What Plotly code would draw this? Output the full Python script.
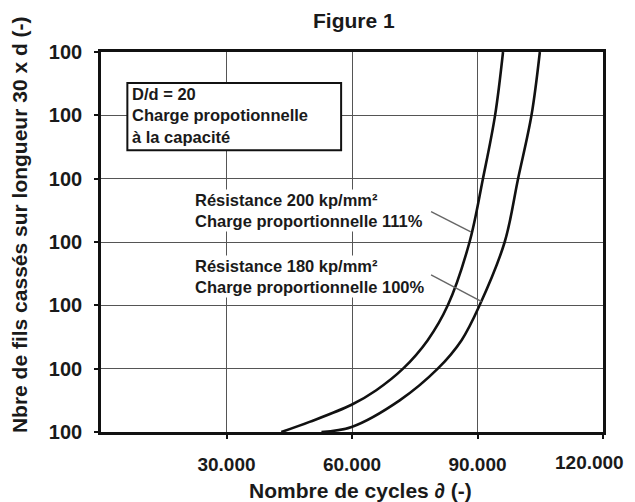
import plotly.graph_objects as go

# ---- data ----
x_ticks = [30000, 60000, 90000, 120000]
x_ticktext = ["30.000", "60.000", "90.000", "120.000"]
y_ticks = [0, 1, 2, 3, 4, 5, 6]
y_ticktext = ["100", "100", "100", "100", "100", "100", "100"]

cycles_200 = [43100, 49850, 59900, 65800, 72200, 78100, 82900, 88100, 91300, 94200, 96100]
broken_200 = [0, 0.16, 0.43, 0.66, 1.0, 1.45, 2.0, 3.0, 4.0, 5.0, 6.0]

cycles_180 = [52700, 59900, 71400, 80500, 86200, 90500, 96500, 99700, 102900, 104900]
broken_180 = [0, 0.08, 0.5, 1.0, 1.45, 2.0, 3.0, 4.0, 5.0, 6.0]

FONT = "Arial, Liberation Sans, sans-serif"
TXT = "#1a1a1a"

fig = go.Figure()
for xs, ys in [(cycles_200, broken_200), (cycles_180, broken_180)]:
    fig.add_trace(go.Scatter(x=xs, y=ys, mode="lines",
                             line=dict(color="#111", width=2.6, shape="spline", smoothing=1.0),
                             showlegend=False, hoverinfo="skip"))

fig.update_layout(
    width=627, height=494,
    margin=dict(l=93, r=32, t=44, b=70, autoexpand=False),
    paper_bgcolor="white", plot_bgcolor="white",
    font=dict(family=FONT, color=TXT),
    showlegend=False,
)
# last x tick label is drawn as an annotation nudged left so it stays inside the page
axis_ticktext = x_ticktext[:-1] + [""]
fig.update_xaxes(range=[0, 120000], tickvals=x_ticks, ticktext=axis_ticktext,
                 showgrid=True, gridcolor="#555", gridwidth=1.3,
                 showline=True, linecolor="#111", linewidth=2.6, mirror=True,
                 ticks="outside", ticklen=4, tickwidth=2, tickcolor="#111",
                 tickfont=dict(size=19, weight="bold", color=TXT),
                 ticklabelstandoff=9, ticklabeloverflow="allow",
                 zeroline=False, automargin=False)
fig.update_yaxes(range=[0, 6], tickvals=y_ticks, ticktext=y_ticktext,
                 showgrid=True, gridcolor="#555", gridwidth=1.3,
                 showline=True, linecolor="#111", linewidth=2.6, mirror=True,
                 ticks="outside", ticklen=4, tickwidth=2, tickcolor="#111",
                 tickfont=dict(size=20, weight="bold", color=TXT),
                 ticklabelstandoff=8, ticklabeloverflow="allow",
                 zeroline=False, automargin=False)
fig.add_annotation(x=x_ticks[-1], y=-0.081, xref="x", yref="paper", xanchor="right", yanchor="middle",
                   xshift=22, showarrow=False, text=x_ticktext[-1], borderpad=0,
                   font=dict(size=19, weight="bold", color=TXT, family=FONT))

# info box
fig.add_shape(type="rect", x0=6300, x1=57400, y0=4.45, y1=5.51,
              line=dict(color="#111", width=2), fillcolor="white", layer="above")

# leader lines
fig.add_shape(type="line", x0=78900, y0=3.48, x1=88400, y1=3.16,
              line=dict(color="#666", width=1.4), layer="above")
fig.add_shape(type="line", x0=78900, y0=2.48, x1=91000, y1=2.06,
              line=dict(color="#666", width=1.4), layer="above")

ann_font = dict(size=16.5, weight="bold", color=TXT, family=FONT)
fig.add_annotation(x=7000, y=5.0, xref="x", yref="y", xanchor="left", yanchor="middle",
                   align="left", showarrow=False, font=ann_font,
                   text="D/d = 20<br>Charge propotionnelle<br>à la capacité")
fig.add_annotation(x=22000, y=3.5, xref="x", yref="y", xanchor="left", yanchor="middle",
                   align="left", showarrow=False, font=ann_font, bgcolor="white",
                   text="Résistance 200 kp/mm²<br>Charge proportionnelle 111%")
fig.add_annotation(x=22000, y=2.45, xref="x", yref="y", xanchor="left", yanchor="middle",
                   align="left", showarrow=False, font=ann_font, bgcolor="white",
                   text="Résistance 180 kp/mm²<br>Charge proportionnelle 100%")

# titles
fig.add_annotation(x=0.503, y=1.1158, xref="paper", yref="paper", xanchor="center", yanchor="top",
                   showarrow=False, text="Figure 1", borderpad=0,
                   font=dict(size=21, weight="bold", color=TXT, family=FONT))
fig.add_annotation(x=0.516, y=-0.155, xref="paper", yref="paper", xanchor="center", yanchor="middle",
                   showarrow=False, text="Nombre de cycles ∂ (-)", borderpad=0,
                   font=dict(size=21, weight="bold", color=TXT, family=FONT))
fig.add_annotation(x=-0.161, y=0.545, xref="paper", yref="paper", xanchor="center", yanchor="middle",
                   showarrow=False, textangle=-90, text="Nbre de fils cassés sur longueur 30 x d (-)",
                   font=dict(size=21, weight="bold", color=TXT, family=FONT))

fig.write_html("out.html")
